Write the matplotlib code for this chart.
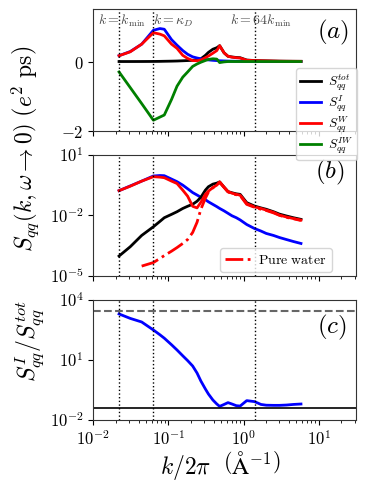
import matplotlib
matplotlib.use("Agg")
import matplotlib.pyplot as plt
from matplotlib.ticker import FixedLocator, FixedFormatter, NullLocator

plt.rcParams['mathtext.fontset'] = 'cm'

# k / 2pi grid (1/Angstrom)
k = [0.022, 0.031, 0.044, 0.063, 0.077, 0.088, 0.11, 0.13, 0.155, 0.18,
     0.21, 0.24, 0.27, 0.31, 0.34, 0.39, 0.44, 0.48, 0.55, 0.62, 0.70,
     0.80, 0.90, 1.1, 1.4, 1.7, 2.0, 2.5, 3.0, 3.7, 4.6, 5.8]

s_tot = [9.5e-5, 2.75e-4, 1.0e-3, 2.7e-3, 5.0e-3, 7.6e-3, 0.0112, 0.0151,
         0.0219, 0.0282, 0.0355, 0.050, 0.079, 0.178, 0.263, 0.355, 0.398,
         0.457, 0.25, 0.151, 0.132, 0.117, 0.110, 0.0427, 0.0288, 0.0234,
         0.020, 0.0151, 0.0115, 0.0093, 0.0076, 0.0063]
s_ion = [0.168, 0.288, 0.50, 0.90, 0.95, 0.93, 0.63, 0.47, 0.316, 0.209,
         0.135, 0.102, 0.079, 0.060, 0.047, 0.035, 0.027, 0.022, 0.0166,
         0.0126, 0.0095, 0.0076, 0.0059, 0.0035, 0.0022, 0.00166, 0.00126,
         0.0010, 0.00079, 0.00063, 0.0005, 0.0004]
s_wat = [0.168, 0.28, 0.50, 0.83, 0.79, 0.74, 0.50, 0.38, 0.178, 0.089,
         0.028, 0.0234, 0.0447, 0.112, 0.158, 0.24, 0.316, 0.457, 0.25,
         0.151, 0.126, 0.11, 0.10, 0.038, 0.0263, 0.0219, 0.0182, 0.0141,
         0.0102, 0.0083, 0.0069, 0.0058]
s_iw = [-0.3, -0.75, -1.21, -1.69, -1.6, -1.54, -1.09, -0.71, -0.45, -0.3,
        -0.14, -0.07, -0.02, 0.03, 0.06, 0.08, 0.07, -0.03, -0.01, 0.0,
        0.0, 0.0, 0.0, 0.0, 0.0, 0.0, 0.0, 0.0, 0.0, 0.0, 0.0, 0.0]

k_pure = k[2:]
s_pure = [3.0e-5, 4.5e-5, 7.2e-5, 1.0e-4, 1.66e-4, 2.5e-4, 4.0e-4, 6.3e-4,
          1.41e-3, 4.5e-3, 0.020, 0.071, 0.141, 0.234, 0.316, 0.436, 0.24,
          0.145, 0.12, 0.105, 0.095, 0.035, 0.025, 0.020, 0.0174, 0.0132,
          0.010, 0.0079, 0.0068, 0.0055]

ratio = [2000, 1200, 794, 316, 182, 123, 57.5, 31.6, 16.2, 9.3, 5.0, 2.24,
         0.89, 0.355, 0.2, 0.1, 0.063, 0.048, 0.060, 0.074, 0.063, 0.052,
         0.050, 0.093, 0.083, 0.060, 0.055, 0.054, 0.054, 0.056, 0.060, 0.063]

k_min = 0.022
kappa_d = 0.0617
k_64 = 64 * k_min
ratio_hi = 2950
ratio_lo = 0.04

fig = plt.figure(figsize=(3.74, 4.95), dpi=100)
L, W = 0.2495, 0.7015
ax_a = fig.add_axes([L, 0.7354, W, 0.2455])
ax_b = fig.add_axes([L, 0.443, W, 0.244])
ax_c = fig.add_axes([L, 0.1515, W, 0.2425])
ax_a.set_zorder(3)

lw = 2.0
ax_a.plot(k, s_tot, color='black', lw=lw, label=r'$S_{qq}^{tot}$')
ax_a.plot(k, s_ion, color='blue', lw=lw, label=r'$S_{qq}^{I}$')
ax_a.plot(k, s_wat, color='red', lw=lw, label=r'$S_{qq}^{W}$')
ax_a.plot(k, s_iw, color='green', lw=lw, label=r'$S_{qq}^{IW}$')

ax_b.plot(k, s_ion, color='blue', lw=lw)
ax_b.plot(k, s_tot, color='black', lw=lw)
ax_b.plot(k, s_wat, color='red', lw=lw)
ax_b.plot(k_pure, s_pure, color='red', lw=lw, ls='-.', label=r'$\mathrm{Pure\ water}$')

ax_c.plot(k, ratio, color='blue', lw=lw)
ax_c.axhline(ratio_hi, color='0.4', lw=1.5, ls='--')
ax_c.axhline(ratio_lo, color='black', lw=1.2)

for ax in (ax_a, ax_b, ax_c):
    ax.set_xscale('log')
    ax.set_xlim(1e-2, 31)
    for kv in (k_min, kappa_d, k_64):
        ax.axvline(kv, color='black', lw=1, ls=':')
    ax.tick_params(labelsize=12)
    for sp in ax.spines.values():
        sp.set_color('0.2')

ax_a.set_ylim(-2, 1.5)
ax_a.yaxis.set_major_locator(FixedLocator([-2, 0]))
ax_a.yaxis.set_major_formatter(FixedFormatter([r'$-2$', r'$0$']))
ax_a.tick_params(labelbottom=False)

ax_b.set_yscale('log')
ax_b.set_ylim(1e-5, 1e1)
ax_b.yaxis.set_major_locator(FixedLocator([1e-5, 1e-2, 1e1]))
ax_b.yaxis.set_major_formatter(FixedFormatter([r'$10^{-5}$', r'$10^{-2}$', r'$10^{1}$']))
ax_b.yaxis.set_minor_locator(NullLocator())
ax_b.tick_params(labelbottom=False)

ax_c.set_yscale('log')
ax_c.set_ylim(1e-2, 1e4)
ax_c.yaxis.set_major_locator(FixedLocator([1e-2, 1e1, 1e4]))
ax_c.yaxis.set_major_formatter(FixedFormatter([r'$10^{-2}$', r'$10^{1}$', r'$10^{4}$']))
ax_c.yaxis.set_minor_locator(NullLocator())
ax_c.xaxis.set_major_locator(FixedLocator([1e-2, 1e-1, 1e0, 1e1]))
ax_c.xaxis.set_major_formatter(FixedFormatter([r'$10^{-2}$', r'$10^{-1}$', r'$10^{0}$', r'$10^{1}$']))

# annotations
xt = ax_a.get_xaxis_transform()
ax_a.text(0.0241, 0.905, r'$k=k_{\min}$', transform=xt, ha='center', va='center', fontsize=10, color='0.3')
ax_a.text(0.115, 0.905, r'$k=\kappa_D$', transform=xt, ha='center', va='center', fontsize=10, color='0.3')
ax_a.text(1.7, 0.905, r'$k=64k_{\min}$', transform=xt, ha='center', va='center', fontsize=10, color='0.3')

ax_a.text(0.913, 0.807, r'$(a)$', transform=ax_a.transAxes, ha='center', va='center', fontsize=18)
ax_b.text(0.902, 0.851, r'$(b)$', transform=ax_b.transAxes, ha='center', va='center', fontsize=18)
ax_c.text(0.908, 0.767, r'$(c)$', transform=ax_c.transAxes, ha='center', va='center', fontsize=18)

ax_a.legend(loc='upper left', bbox_to_anchor=(0.7725, 0.5185), fontsize=9.5,
            handlelength=1.6, borderpad=0.3, labelspacing=0.05, handletextpad=0.5,
            borderaxespad=0)
ax_b.legend(loc='upper left', bbox_to_anchor=(0.483, 0.229), fontsize=10,
            handlelength=1.8, borderpad=0.35, handletextpad=0.6, borderaxespad=0)

fig.text(0.067, 0.70, r'$S_{qq}\left(k,\omega\rightarrow 0\right)\ \left(e^2\ \mathrm{ps}\right)$',
         rotation=90, ha='center', va='center', fontsize=17)
fig.text(0.08, 0.31, r'$S_{qq}^{I}/S_{qq}^{tot}$', rotation=90, ha='center', va='center', fontsize=17)
fig.text(0.59, 0.06, r'$k/2\pi\ \ \left(\mathrm{\AA}^{-1}\right)$', ha='center', va='center', fontsize=17)

fig.savefig('out.png', dpi=100)
